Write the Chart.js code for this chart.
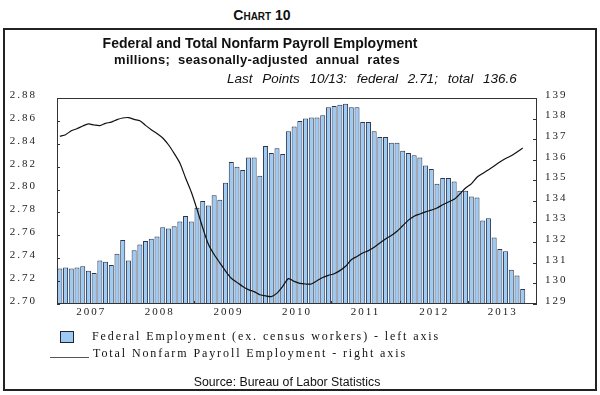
<!DOCTYPE html>
<html lang="en">
<head>
<meta charset="UTF-8">
<title>Federal and Total Nonfarm Payroll Employment</title>
<script src="https://cdn.jsdelivr.net/npm/chart.js"></script>
<style>
  body { margin: 0; width: 600px; height: 395px; position: relative; background: #fff; overflow: hidden;
         font-family: 'Liberation Sans', Arial, sans-serif; color: #111; }
  .t { position: absolute; white-space: pre; }
  #box { position: absolute; left: 3px; top: 28px; width: 590px; height: 359px; border: 2px solid #222; }
  #chart { position: absolute; left: 0; top: 0; }
  .serif { font-family: 'Liberation Serif', 'Times New Roman', serif; font-size: 12px; letter-spacing: 1.9px; line-height: 14px; }
</style>
</head>
<body>
  <div class="t" style="left:162px; width:200px; top:7px; text-align:center; font:bold 14px/16px 'Liberation Sans', Arial, sans-serif; font-variant:small-caps;">Chart 10</div>
  <div id="box"></div>
  <canvas id="chart" width="600" height="395"></canvas>
  <div class="t" style="left:60px; width:400px; top:35px; text-align:center; font:bold 14px/16px 'Liberation Sans', Arial, sans-serif;">Federal and Total Nonfarm Payroll Employment</div>
  <div class="t" style="left:57px; width:400px; top:52px; text-align:center; font:bold 13px/16px 'Liberation Sans', Arial, sans-serif; letter-spacing:0.3px;">millions;  seasonally-adjusted  annual  rates</div>
  <div class="t" style="left:227px; top:71px; font:italic 13.5px/16px 'Liberation Sans', Arial, sans-serif; word-spacing:6px;">Last Points 10/13: federal 2.71; total 136.6</div>

  <div style="position:absolute; left:60px; top:331px; width:12px; height:10px; background:#9ccaf3; border:1px solid #223;"></div>
  <div class="t serif" style="left:92px; top:329px;">Federal Employment (ex. census workers) - left axis</div>
  <div style="position:absolute; left:50px; top:357px; width:39px; border-top:1px solid #555;"></div>
  <div class="t serif" style="left:93px; top:346px;">Total Nonfarm Payroll Employment - right axis</div>
  <div class="t" style="left:187px; width:200px; top:374px; text-align:center; font:12.3px/16px 'Liberation Sans', Arial, sans-serif;">Source: Bureau of Labor Statistics</div>

<script>
  // years on the x axis; data is monthly, Jan 2007 - Oct 2013 (axis runs to Dec 2013)
  const years = ['2007', '2008', '2009', '2010', '2011', '2012', '2013'];

  // federal employment (ex. census workers), millions - left axis
  const federal = [
    2.731, 2.732, 2.731, 2.732, 2.733, 2.729, 2.727, 2.738, 2.737, 2.734, 2.744, 2.756,
    2.738, 2.747, 2.752, 2.755, 2.757, 2.759, 2.767, 2.766, 2.768, 2.772, 2.777, 2.772,
    2.784, 2.790, 2.786, 2.795, 2.791, 2.806, 2.824, 2.820, 2.817, 2.828, 2.828, 2.812,
    2.838, 2.832, 2.836, 2.831, 2.851, 2.855, 2.860, 2.862, 2.863, 2.863, 2.865, 2.872,
    2.873, 2.874, 2.875, 2.872, 2.872, 2.859, 2.859, 2.851, 2.846, 2.846, 2.841, 2.841,
    2.834, 2.832, 2.830, 2.828, 2.821, 2.818, 2.805, 2.810, 2.810, 2.807, 2.799, 2.799,
    2.794, 2.793, 2.773, 2.775, 2.758, 2.748, 2.746, 2.730, 2.725, 2.713
  ];

  // total nonfarm payroll employment, millions - right axis
  const total = [
    137.14, 137.22, 137.41, 137.51, 137.64, 137.74, 137.69, 137.66, 137.77, 137.83, 137.95, 138.03,
    138.05, 137.96, 137.90, 137.67, 137.46, 137.28, 137.06, 136.73, 136.31, 135.84, 135.12, 134.44,
    133.60, 132.70, 131.90, 131.40, 131.00, 130.60, 130.25, 130.05, 129.85, 129.70, 129.60, 129.45,
    129.39, 129.36, 129.53, 129.86, 130.23, 130.10, 130.00, 129.97, 129.97, 130.13, 130.29, 130.39,
    130.47, 130.62, 130.83, 131.15, 131.31, 131.48, 131.59, 131.75, 131.96, 132.16, 132.32, 132.53,
    132.80, 133.07, 133.26, 133.37, 133.47, 133.56, 133.66, 133.82, 133.95, 134.08, 134.34, 134.63,
    134.83, 135.15, 135.34, 135.52, 135.70, 135.89, 136.06, 136.20, 136.38, 136.57
  ];

  // one category per month
  const months = [];
  years.forEach(y => { for (let m = 1; m <= 12; m++) months.push(y + '-' + String(m).padStart(2, '0')); });

  const axisFont = { family: "'Liberation Serif', 'Times New Roman', serif", size: 11 };

  // plot frame and inward tick marks like the original
  const frameTicks = {
    id: 'frameTicks',
    beforeDraw(chart) { chart.ctx.letterSpacing = '2px'; },
    afterDatasetsDraw(chart) {
      const { ctx, chartArea: a, scales } = chart;
      ctx.save();
      ctx.strokeStyle = '#333';
      ctx.lineWidth = 1;
      ctx.strokeRect(a.left + 0.5, a.top + 0.5, a.right - a.left - 1, a.bottom - a.top - 1);
      ctx.beginPath();
      scales.y.ticks.forEach(t => {
        const py = Math.round(scales.y.getPixelForValue(t.value)) + 0.5;
        ctx.moveTo(a.left, py); ctx.lineTo(a.left + 3, py);
      });
      scales.y1.ticks.forEach(t => {
        const py = Math.round(scales.y1.getPixelForValue(t.value)) + 0.5;
        ctx.moveTo(a.right, py); ctx.lineTo(a.right - 4, py);
      });
      for (let i = 12; i < months.length; i += 12) {
        const px = Math.round((scales.x.getPixelForValue(i - 1) + scales.x.getPixelForValue(i)) / 2) + 0.5;
        ctx.moveTo(px, a.bottom); ctx.lineTo(px, a.bottom - 3);
      }
      ctx.stroke();
      ctx.restore();
    }
  };

  new Chart(document.getElementById('chart'), {
    data: {
      labels: months,
      datasets: [
        {
          type: 'line',
          label: 'Total Nonfarm Payroll Employment - right axis',
          data: total,
          yAxisID: 'y1',
          borderColor: '#111',
          borderWidth: 1.2,
          pointRadius: 0,
          tension: 0.25,
          order: 0
        },
        {
          type: 'bar',
          label: 'Federal Employment (ex. census workers) - left axis',
          data: federal,
          yAxisID: 'y',
          backgroundColor: '#9ccaf3',
          borderColor: '#2b3550',
          borderWidth: 1,
          barPercentage: 0.88,
          categoryPercentage: 1.0,
          order: 1
        }
      ]
    },
    options: {
      responsive: false,
      animation: false,
      layout: { padding: { left: 0, right: 0, top: 98, bottom: 71 } },
      plugins: { legend: { display: false }, tooltip: { enabled: false } },
      scales: {
        x: {
          type: 'category',
          grid: { display: false, drawTicks: false },
          border: { display: false },
          ticks: {
            autoSkip: false, maxRotation: 0, padding: 2, labelOffset: -2.86,
            color: '#222', font: axisFont,
            callback: (v, i) => (i % 12 === 6 ? years[Math.floor(i / 12)] : '')
          },
          afterFit: s => { s.height = 20; }
        },
        y: {
          position: 'left',
          min: 2.70, max: 2.88,
          grid: { display: false, drawTicks: false },
          border: { display: false },
          ticks: { stepSize: 0.02, padding: 20, labelOffset: -3, color: '#222', font: axisFont,
                   callback: v => v.toFixed(2) },
          afterFit: s => { s.width = 57; }
        },
        y1: {
          position: 'right',
          min: 129, max: 139,
          grid: { display: false, drawTicks: false },
          border: { display: false },
          ticks: { stepSize: 1, padding: 8, labelOffset: -3, color: '#222', font: axisFont },
          afterFit: s => { s.width = 63; }
        }
      }
    },
    plugins: [frameTicks]
  });
</script>
</body>
</html>
